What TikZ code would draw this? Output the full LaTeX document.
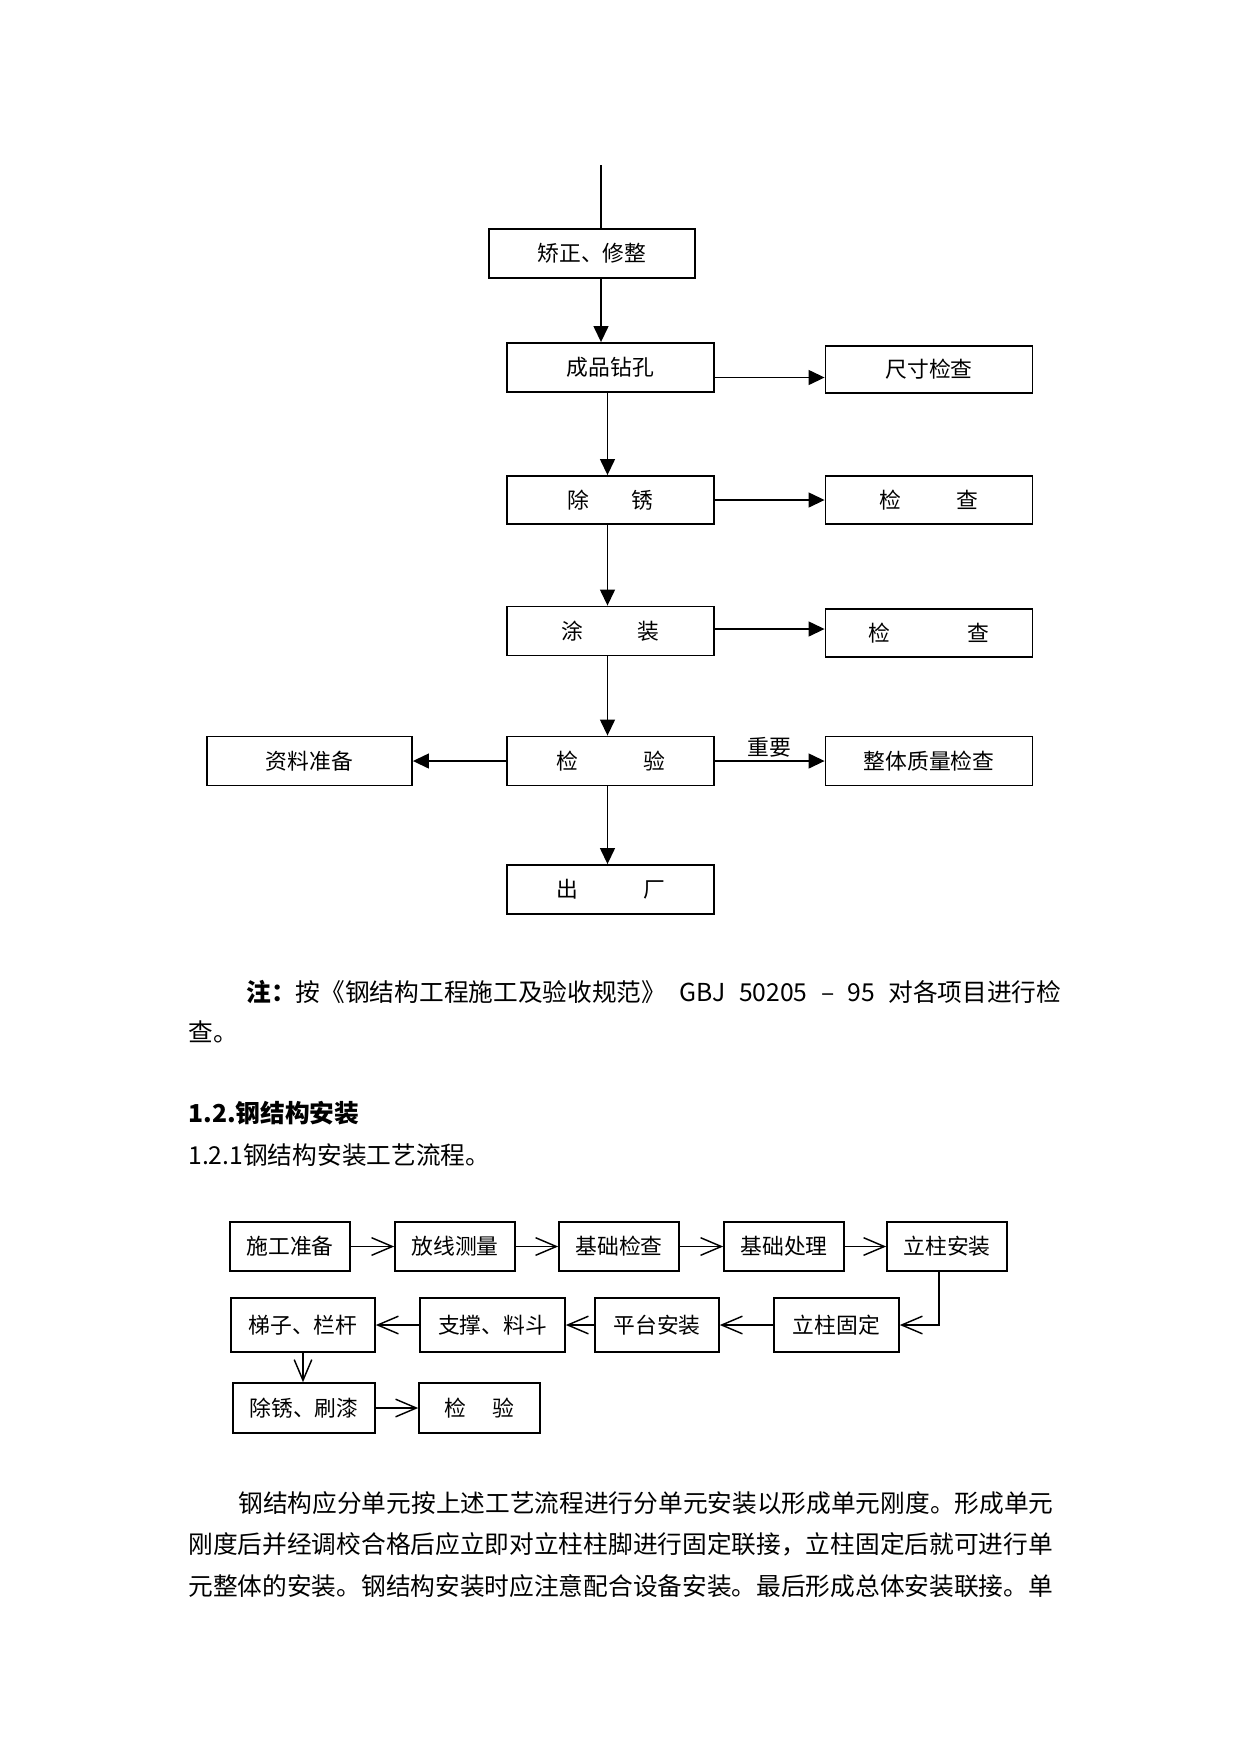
\documentclass[tikz,border=0pt]{standalone}
\usepackage{fontspec}
\setmainfont{Noto Sans CJK SC}
\usetikzlibrary{arrows.meta}
\newcommand\pxu{0.16933mm}
\newcommand\gap[1]{\hspace{#1pt}}
\tikzset{
 box/.style={draw,line width=0.9pt,inner sep=0pt,minimum width=207*\pxu,
  minimum height=49*\pxu,font=\fontsize{10.5pt}{12pt}\selectfont},
 sbox/.style={draw,line width=0.8pt,inner sep=0pt,minimum height=49*\pxu,
  font=\fontsize{10.5pt}{12pt}\selectfont},
 arr/.style={line width=0.7pt,-{Triangle[length=7.7pt,width=7.2pt]}},
 oarr/.style={line width=0.7pt,-{Straight Barb[length=10pt,width=8.5pt]}},
 body/.style={anchor=west,inner sep=0pt,font=\fontsize{11.9pt}{14pt}\selectfont}
}

\begin{document}
\begin{tikzpicture}[x=0.16933mm,y=-0.16933mm]
 \useasboundingbox (0,0) rectangle (1241,1754);
 \fill[white] (0,0) rectangle (1241,1754);
 % factory flow
 \coordinate (top) at (601,165);
 \coordinate (spine) at (607.5,0);
 \node[box,minimum width=206*\pxu] (jz) at (592,253.5) {矫正、修整};
 \node[box] (zk) at (610.5,367.5) {成品钻孔};
 \node[box,minimum height=47*\pxu] (cc) at (929,369.5) {尺寸检查};
 \node[box,minimum height=48*\pxu] (cx) at (610.5,500) {除\gap{20.7}锈};
 \node[box,minimum height=48*\pxu] (jc1) at (929,500) {检\gap{26.4}查};
 \node[box] (tz) at (610.5,631) {涂\gap{26.4}装};
 \node[box,minimum height=48*\pxu] (jc2) at (929,633) {检\gap{37.5}查};
 \node[box] (jy) at (610.5,761) {检\gap{31.4}验};
 \node[box,minimum width=205*\pxu] (zl) at (309.5,761) {资料准备};
 \node[box] (zt) at (929,761) {整体质量检查};
 \node[box] (cf) at (610.5,889.5) {出\gap{31.4}厂};
 \draw[line width=0.7pt] (top) -- (jz.north -| top);
 \draw[arr] (jz.south -| top) -- (zk.north -| top);
 \foreach \a/\b in {zk/cx,cx/tz,tz/jy,jy/cf}
  \draw[arr] (\a.south -| spine) -- (\b.north -| spine);
 \coordinate (h1) at ([yshift=-10*\pxu]zk.east);
 \draw[arr] (h1) -- (h1 -| cc.west);
 \draw[arr] (cx.east) -- (cx.east -| jc1.west);
 \coordinate (h3) at ([yshift=2*\pxu]tz.east);
 \draw[arr] (h3) -- (h3 -| jc2.west);
 \draw[arr] (jy.west) -- (zl.east);
 \draw[arr] (jy.east) -- (zt.west)
  node[midway,above=1.5pt,inner sep=0pt,font=\fontsize{10.5pt}{12pt}\selectfont] (imp) {重要};
 % text
 \node[body] (note) at (246,991.5) {\makebox[138mm][s]{\textbf{注：}按《钢结构工程施工及验收规范》\hfill GBJ\hfill 50205\hfill –\hfill 95\hfill 对各项目进行检}};
 \node[body] (note2) at (188,1031.7) {查。};
 \node[body,font=\fontsize{11.9pt}{14pt}\selectfont\bfseries] (sec) at (188,1113.4) {1.2.钢结构安装};
 \node[body] (subsec) at (188,1154.8) {1.2.1钢结构安装工艺流程。};
 % erection flow
 \foreach \n/\t/\x in {sg/施工准备/290,fx/放线测量/455,jj/基础检查/619,jl/基础处理/784,la/立柱安装/947}
  \node[sbox,minimum width=120*\pxu] (\n) at (\x,1246.5) {\t};
 \foreach \a/\b in {sg/fx,fx/jj,jj/jl,jl/la}
  \draw[oarr] (\a) -- (\b);
 \node[sbox,minimum width=144*\pxu,minimum height=54*\pxu] (tl) at (303,1325) {梯子、栏杆};
 \node[sbox,minimum width=145*\pxu,minimum height=54*\pxu] (zc) at (492.5,1325) {支撑、料斗};
 \node[sbox,minimum width=124*\pxu,minimum height=54*\pxu] (pt) at (657,1325) {平台安装};
 \node[sbox,minimum width=125*\pxu,minimum height=54*\pxu] (lg) at (836.5,1325) {立柱固定};
 \node[sbox,minimum width=142*\pxu,minimum height=50*\pxu] (sq) at (304,1408) {除锈、刷漆};
 \node[sbox,minimum width=121*\pxu,minimum height=50*\pxu] (jy2) at (479.5,1408) {检\gap{12.6}验};
 \draw[oarr] ([xshift=-8*\pxu]la.south) |- (lg.east);
 \foreach \a/\b in {lg/pt,pt/zc,zc/tl}
  \draw[oarr] (\a) -- (\b);
 \draw[oarr] (tl.south) -- (tl.south |- sq.north);
 \draw[oarr] (sq) -- (jy2);
 % paragraph
 \node[body] (p1) at (238,1502.8) {钢结构应分单元按上述工艺流程进行分单元安装以形成单元刚度。形成单元};
 \node[body] (p2) at (188,1544) {刚度后并经调校合格后应立即对立柱柱脚进行固定联接，立柱固定后就可进行单};
 \node[body] (p3) at (188,1585.6) {元整体的安装。钢结构安装时应注意配合设备安装。最后形成总体安装联接。单};
\end{tikzpicture}
\end{document}
